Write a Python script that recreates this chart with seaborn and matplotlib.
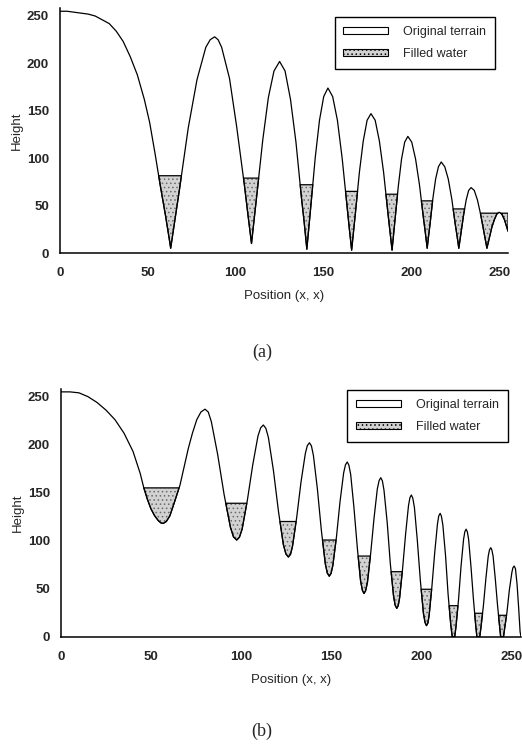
import numpy as np
import matplotlib
matplotlib.use("Agg")
import matplotlib.pyplot as plt
import seaborn as sns
from matplotlib.patches import Patch

# ---- panel (a): terrain heights ----
x_a = [0, 4, 8, 12, 16, 20, 24, 28, 32, 36, 40, 44, 48, 51, 54, 57, 60, 62, 63,
       65.5, 68, 73, 78, 83, 85.5, 88, 90, 92, 96.5, 100.5, 105, 107, 109,
       110.6, 112.2, 115.4, 118.6, 121.8, 125, 128.1, 131.2, 134.3, 137.4, 139, 140.5,
       141.7, 142.9, 145.3, 147.7, 150.1, 152.5, 155.2, 157.9, 160.6, 163.3, 164.6, 166,
       167.1, 168.2, 170.4, 172.6, 174.8, 177, 179.4, 181.8, 184.2, 186.6, 187.8, 189,
       189.9, 190.8, 192.6, 194.4, 196.2, 198, 200.2, 202.4, 204.6, 206.8, 207.9, 209,
       209.8, 210.6, 212.2, 213.8, 215.4, 217, 219, 221, 223, 225, 226, 227,
       227.7, 228.4, 229.8, 231.2, 232.6, 234, 235.8, 237.6, 239.4, 241.2, 242.1, 243,
       244.4, 245.8, 247.2, 248.6, 250, 251.5, 253, 254, 255]
h_a = [255, 255, 254, 253, 252, 250, 246, 242, 234, 223, 207, 188, 162, 138, 106, 72, 40, 17, 5,
       36, 67, 132, 183, 217, 225, 228, 225, 217, 184, 134, 71, 40, 10,
       37, 64, 119, 164, 192, 202, 192, 162, 117, 59, 32, 4,
       28, 52, 101, 140, 165, 174, 165, 140, 100, 51, 27, 3,
       23, 43, 85, 118, 140, 147, 140, 118, 85, 43, 23, 3,
       20, 37, 71, 99, 117, 123, 117, 99, 72, 38, 22, 5,
       18, 30, 57, 78, 91, 96, 91, 78, 57, 30, 18, 5,
       14, 23, 41, 56, 66, 69, 66, 56, 41, 23, 14, 5,
       16, 27, 35, 41, 43, 41, 35, 29, 23]
# water pools: level and the stretch (between neighbouring peaks) it sits in
pool_level_a = [81.5, 79, 72, 65, 62, 55, 46.5, 42]
pool_lo_a = [0, 88, 125, 152.5, 177, 198, 217, 234]
pool_hi_a = [88, 125, 152.5, 177, 198, 217, 234, 255]

# ---- panel (b) ----
x_b = [0, 5, 10, 15, 20, 25, 30, 35, 40, 44, 46, 48, 50, 52, 54, 55.5, 56.8,
       58.5, 60.5, 63, 66.1, 68.5, 70.7, 73, 75.4, 77.7, 80,
       81.8, 83.5, 87, 90.6, 94.1, 95.8, 97.6,
       99.1, 100.6, 103.5, 106.5, 109.4, 110.9, 112.4,
       113.8, 115.2, 118, 120.8, 123.5, 124.9, 126.3,
       127.5, 128.6, 130.9, 133.3, 135.7, 136.8, 138,
       139.1, 140.2, 142.4, 144.6, 146.8, 147.9, 149,
       150, 151, 153, 155, 157, 158, 159,
       159.9, 160.9, 162.7, 164.6, 166.4, 167.4, 168.3,
       169.2, 170.2, 172, 173.9, 175.7, 176.7, 177.6,
       178.5, 179.4, 181.2, 182.9, 184.7, 185.6, 186.5,
       187.3, 188.1, 189.7, 191.4, 193, 193.8, 194.6,
       195.4, 196.3, 197.9, 199.6, 201.3, 202.2, 203,
       203.8, 204.5, 206, 207.6, 209.1, 209.8, 210.6,
       211.3, 212.1, 213.6, 215, 216.5, 217.3, 218.7,
       219.4, 220.8, 222.2, 223.6, 224.3, 225,
       225.7, 226.4, 227.7, 229.1, 230.4, 231, 232.6,
       233.2, 234.6, 236, 237.3, 238, 238.7,
       239.3, 240, 241.2, 242.5, 243.7, 244.2, 245.8,
       246.3, 247.7, 249, 250.4, 251, 251.7,
       252.4, 253.3, 254.2, 255, 255.5]
h_b = [255, 255, 254, 250, 244, 236, 226, 212, 193, 170, 155, 143, 133, 126, 121, 118.5, 118,
       120, 126, 140, 158, 178, 196, 212, 226, 234, 237,
       234, 224, 190, 148, 114, 104, 100.7,
       103.6, 112, 142, 179, 209, 217.6, 220.5,
       217, 207.5, 173, 130.4, 96, 86.3, 83,
       85.9, 94.3, 124, 161, 190.7, 199, 202,
       198.7, 188.8, 154, 111, 76, 66.3, 63,
       65.9, 74.3, 104, 141, 170.7, 179, 182,
       178.7, 169, 134.7, 92.3, 58, 48.3, 45,
       47.9, 56.5, 86.6, 124, 154, 162.7, 165.6,
       162.3, 152.6, 118.6, 76.4, 42.4, 32.8, 29.5,
       32.3, 40.7, 70.2, 106.8, 136.3, 144.8, 147.6,
       144.3, 134.6, 100.6, 58.4, 24.4, 14.8, 11.5,
       14.3, 22.6, 51.9, 88.1, 117.4, 125.7, 128.5,
       125.4, 116.3, 84.2, 44.3, 12.2, 0, 0,
       10.6, 38.6, 73.4, 101.4, 109.3, 112,
       109.3, 101.4, 73.4, 38.6, 10.6, 0, 0,
       8.8, 32, 60.7, 83.9, 90.5, 92.7,
       90.5, 83.9, 60.7, 32, 8.8, 0, 0,
       7, 25.4, 48.2, 66.6, 71.8, 73.6,
       71, 55, 30, 5, 0]
pool_level_b = [155, 139, 120, 100.7, 84, 67.7, 49.4, 32.3, 24.4, 22.3]
pool_lo_b = [0, 80, 112.4, 138, 159, 177.6, 194.6, 210.6, 225, 238.7]
pool_hi_b = [80, 112.4, 138, 159, 177.6, 194.6, 210.6, 225, 238.7, 251.7]

WATER_FACE = "#d2d2d2"
WATER_HATCH = "#6a6a6a"

sns.set_style("white")
plt.rcParams["font.family"] = ["Liberation Sans", "DejaVu Sans"]
plt.rcParams["hatch.linewidth"] = 0.6


def draw_panel(ax, x, h, levels, lo, hi, xmax, legend_anchor):
    x = np.asarray(x, dtype=float)
    h = np.asarray(h, dtype=float)

    # filled water in each pool
    for lev, a, b in zip(levels, lo, hi):
        m = (x >= a) & (x <= b)
        xs, hs = x[m], h[m]
        ax.fill_between(xs, hs, lev, where=hs < lev, interpolate=True,
                        facecolor=WATER_FACE, edgecolor=WATER_HATCH,
                        hatch="....", linewidth=0)
        ax.fill_between(xs, hs, lev, where=hs < lev, interpolate=True,
                        facecolor="none", edgecolor="black", linewidth=0.9)

    # original terrain
    sns.lineplot(x=x, y=h, ax=ax, color="black", linewidth=0.9,
                 sort=False, estimator=None)

    ax.set_xlim(0, xmax)
    ax.set_ylim(0, 258)
    ax.set_xticks([0, 50, 100, 150, 200, 250])
    ax.set_xticks(np.arange(0, xmax, 10), minor=True)
    ax.set_yticks([0, 50, 100, 150, 200, 250])
    ax.tick_params(axis="x", which="both", direction="in", length=3,
                   width=0.8, pad=10, labelsize=9.5)
    ax.tick_params(axis="y", length=0, pad=8, labelsize=9.5)
    for lab in ax.get_xticklabels() + ax.get_yticklabels():
        lab.set_fontweight("semibold")

    for side in ["top", "right"]:
        ax.spines[side].set_visible(False)
    for side in ["left", "bottom"]:
        ax.spines[side].set_color("black")
        ax.spines[side].set_linewidth(1.1)

    ax.set_xlabel("Position (x, x)", fontsize=9.5, labelpad=8)
    ax.set_ylabel("Height", fontsize=9.5, labelpad=3)

    handles = [
        Patch(facecolor="white", edgecolor="black", linewidth=0.8,
              label="Original terrain"),
        Patch(facecolor=WATER_FACE, edgecolor="black", linewidth=0.8,
              hatch="....", label="Filled water"),
    ]
    leg = ax.legend(handles=handles, loc="upper right",
                    bbox_to_anchor=legend_anchor, frameon=True,
                    fancybox=False, framealpha=1, edgecolor="black",
                    fontsize=9, handlelength=3.6, handleheight=0.55,
                    borderpad=0.7, labelspacing=0.8, handletextpad=1.2)
    leg.get_frame().set_linewidth(1.0)


fig = plt.figure(figsize=(5.22, 7.46), dpi=100)

ax_a = fig.add_axes([60 / 522, 493 / 746, 448 / 522, 244.6 / 746])
draw_panel(ax_a, x_a, h_a, pool_level_a, pool_lo_a, pool_hi_a, 255,
           (0.985, 0.99))

ax_b = fig.add_axes([61 / 522, 109.3 / 746, 460 / 522, 247.7 / 746])
draw_panel(ax_b, x_b, h_b, pool_level_b, pool_lo_b, pool_hi_b, 255.5,
           (0.985, 1.02))

fig.text(262 / 522, 1 - 352 / 746, "(a)", ha="center", va="center",
         fontsize=13, family="Liberation Serif")
fig.text(262 / 522, 1 - 731 / 746, "(b)", ha="center", va="center",
         fontsize=13, family="Liberation Serif")

fig.savefig("out.png", dpi=100)
